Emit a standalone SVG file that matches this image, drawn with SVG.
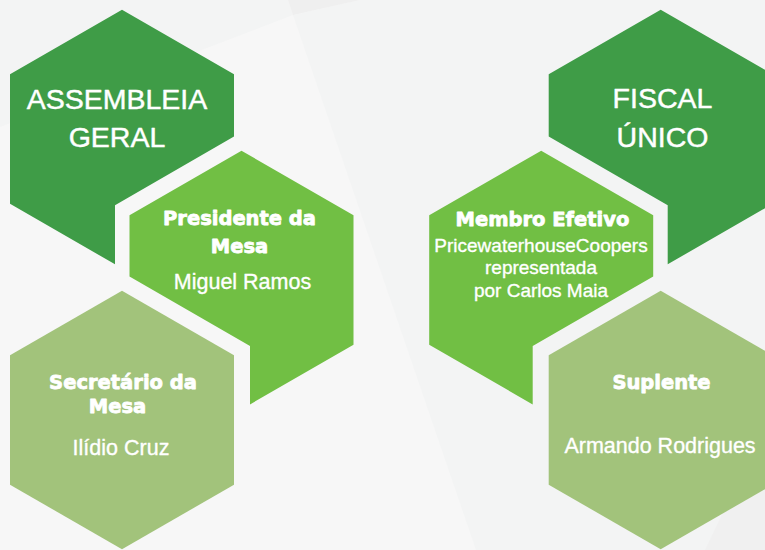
<svg xmlns="http://www.w3.org/2000/svg" width="765" height="550" viewBox="0 0 765 550">
  <style>
    .dark { fill: #3F9C47; }
    .mid { fill: #71BF44; }
    .light { fill: #A2C37B; }
    text { fill: #FFFFFF; text-anchor: middle; stroke: #FFFFFF; stroke-linejoin: round; }
    .title { font-family: "Liberation Sans", Arial, sans-serif; font-size: 28.5px; stroke-width: 0.45px; }
    .head { font-family: "DejaVu Sans", sans-serif; font-weight: bold; font-size: 19.5px; stroke-width: 0.8px; }
    .name { font-family: "Liberation Sans", Arial, sans-serif; font-size: 21.5px; stroke-width: 0.35px; }
    .small { font-family: "Liberation Sans", Arial, sans-serif; font-size: 19px; stroke-width: 0.35px; }
  </style>
  <g id="background">
    <rect x="0" y="0" width="765" height="550" fill="#F7F7F7"/>
    <polygon points="0,0 288,0 293,15 0,127" fill="#F3F4F4"/>
    <polygon points="293,15 360,0 765,0 765,550 476,550" fill="#F3F4F4"/>
    <polygon points="288,0 360,0 293,15" fill="#EFEFEF"/>
    <polygon points="705,550 765,425 765,550" fill="#F0F0F0"/>
  </g>
  <g id="connectors"/>
  <g id="assembleia-geral">
    <polygon class="dark" points="122,9.7 234,74.3 234,136.5 115,205.2 115,264.3 10,203.7 10,74.3"/>
    <text class="title" x="117" y="109">ASSEMBLEIA</text>
    <text class="title" x="117" y="147">GERAL</text>
  </g>
  <g id="presidente-da-mesa">
    <polygon class="mid" points="241.5,150.7 353.5,215.3 353.5,344.7 250,404.4 250,346 129.5,276.4 129.5,215.3"/>
    <text class="head" x="239.5" y="225">Presidente da</text>
    <text class="head" x="239.5" y="253">Mesa</text>
    <text class="name" x="242.5" y="289">Miguel Ramos</text>
  </g>
  <g id="secretario-da-mesa">
    <polygon class="light" points="122,290.7 234,355.3 234,484.7 122,549.3 10,484.7 10,355.3"/>
    <text class="head" x="123" y="389">Secretário da</text>
    <text class="head" x="117.5" y="413">Mesa</text>
    <text class="name" x="121" y="455">Ilídio Cruz</text>
  </g>
  <g id="fiscal-unico">
    <polygon class="dark" points="660.7,9.7 548.7,74.3 548.7,136.5 667.7,205.2 667.7,264.3 772.7,203.7 772.7,74.3"/>
    <text class="title" x="662.5" y="108">FISCAL</text>
    <text class="title" x="662.5" y="147">ÚNICO</text>
  </g>
  <g id="membro-efetivo">
    <polygon class="mid" points="541.2,150.7 429.2,215.3 429.2,344.7 532.7,404.4 532.7,346 653.2,276.4 653.2,215.3"/>
    <text class="head" x="542.5" y="226">Membro Efetivo</text>
    <text class="small" x="541" y="252">PricewaterhouseCoopers</text>
    <text class="small" x="541" y="274">representada</text>
    <text class="small" x="541" y="297">por Carlos Maia</text>
  </g>
  <g id="suplente">
    <polygon class="light" points="660.7,290.7 548.7,355.3 548.7,484.7 660.7,549.3 772.7,484.7 772.7,355.3"/>
    <text class="head" x="661.5" y="389">Suplente</text>
    <text class="name" x="660" y="453">Armando Rodrigues</text>
  </g>
</svg>
